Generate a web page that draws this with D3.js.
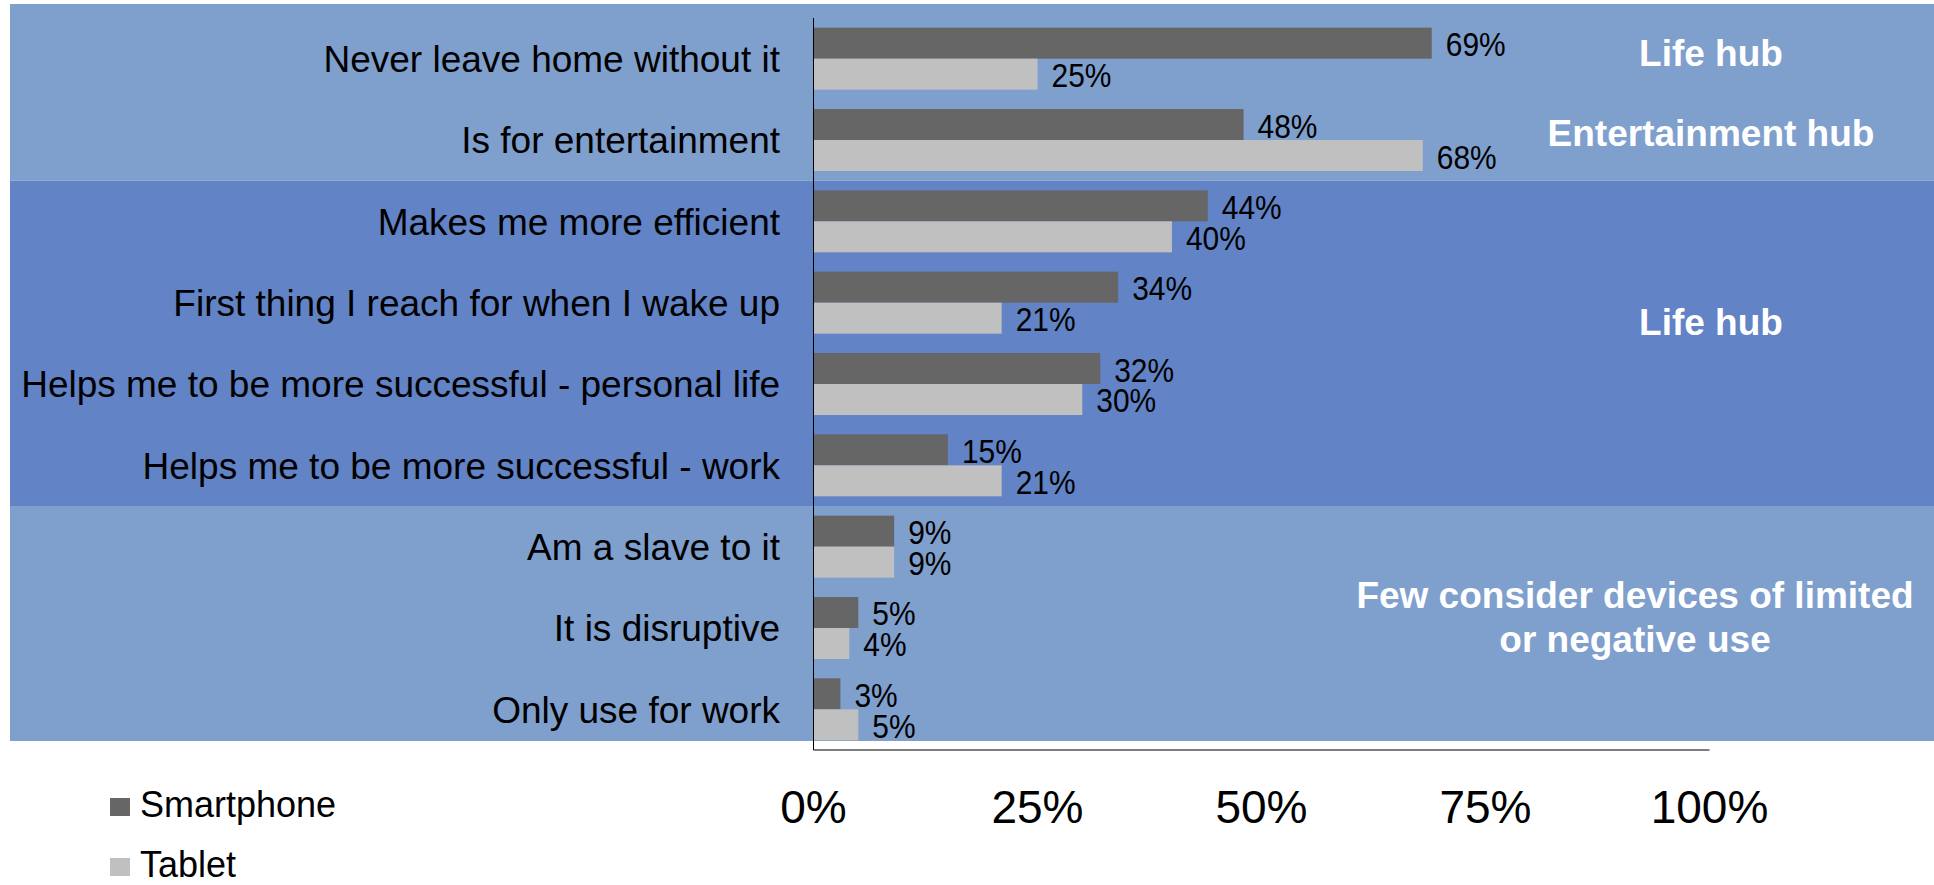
<!DOCTYPE html>
<html>
<head>
<meta charset="utf-8">
<script src="https://cdn.jsdelivr.net/npm/d3@7/dist/d3.min.js"></script>
<style>
  html, body { margin: 0; padding: 0; background: #ffffff; }
  svg { display: block; font-family: "Liberation Sans", Arial, sans-serif; }
</style>
</head>
<body>
<svg id="chart" width="1934" height="885"></svg>
<script>
// Statements about the device, top to bottom
const categories = [
  "Never leave home without it",
  "Is for entertainment",
  "Makes me more efficient",
  "First thing I reach for when I wake up",
  "Helps me to be more successful - personal life",
  "Helps me to be more successful - work",
  "Am a slave to it",
  "It is disruptive",
  "Only use for work"
];
const seriesNames = ["Smartphone", "Tablet"];
const smartphone = [69, 48, 44, 34, 32, 15, 9, 5, 3];
const tablet     = [25, 68, 40, 21, 30, 21, 9, 4, 5];
const tickValues = [0, 25, 50, 75, 100];

// Shaded groups: first and last category index of each block
const groupStart = [0, 2, 6];
const groupEnd   = [1, 5, 8];
const groupShade = ["#7f9fcd", "#6283c5", "#7f9fcd"];

// Notes written on the right side of each block
const noteLines = [
  ["Life hub"],
  ["Entertainment hub"],
  ["Life hub"],
  ["Few consider devices of limited", "or negative use"]
];

const colors = { Smartphone: "#666666", Tablet: "#c0c0c0" };

const svg = d3.select("#chart");

const x = d3.scaleLinear().domain([0, 100]).range([813.5, 1709.5]);
const y = d3.scaleBand().domain(categories).range([18, 750])
  .paddingInner(0.2377).paddingOuter(0.1189);
const ySub = d3.scaleBand().domain(seriesNames).range([0, y.bandwidth()]);

const rows = categories.map((c, i) => ({
  cat: c,
  values: [
    { series: "Smartphone", v: smartphone[i] },
    { series: "Tablet", v: tablet[i] }
  ]
}));

// Background blocks
const step = y.step();
const panelTop = 4, panelBottom = 741;
groupStart.forEach((s, g) => {
  const e = groupEnd[g];
  const top = g === 0 ? panelTop : y(categories[s]) - (step - y.bandwidth()) / 2;
  const bottom = g === groupStart.length - 1 ? panelBottom
    : y(categories[e]) + y.bandwidth() + (step - y.bandwidth()) / 2;
  svg.append("rect")
    .attr("x", 10).attr("y", top)
    .attr("width", 1934 - 10).attr("height", bottom - top)
    .attr("fill", groupShade[g]);
});

// Bars
const rowG = svg.append("g").selectAll("g").data(rows).join("g")
  .attr("transform", d => `translate(0,${y(d.cat)})`);

rowG.selectAll("rect").data(d => d.values).join("rect")
  .attr("x", x(0))
  .attr("y", d => ySub(d.series))
  .attr("width", d => x(d.v) - x(0))
  .attr("height", ySub.bandwidth())
  .attr("fill", d => colors[d.series]);

// Value labels (narrow face)
rowG.selectAll("text").data(d => d.values).join("text")
  .attr("transform", d => `translate(${x(d.v) + 14},${ySub(d.series) + ySub.bandwidth() / 2 + 13}) scale(0.88,1)`)
  .attr("font-size", 34)
  .attr("fill", "#000")
  .text(d => d.v + "%");

// Category labels
svg.append("g").selectAll("text").data(categories).join("text")
  .attr("x", x(0) - 33.5)
  .attr("y", d => y(d) + y.bandwidth() / 2 + 13.3)
  .attr("text-anchor", "end")
  .attr("font-size", 37)
  .attr("fill", "#000")
  .text(d => d);

// Axis lines
svg.append("line")
  .attr("x1", x(0)).attr("x2", x(0))
  .attr("y1", 18).attr("y2", 750)
  .attr("stroke", "#000").attr("stroke-width", 1);
svg.append("line")
  .attr("x1", x(0)).attr("x2", x(100))
  .attr("y1", 750).attr("y2", 750)
  .attr("stroke", "#000").attr("stroke-width", 1.2);

// Tick labels
svg.append("g").selectAll("text").data(tickValues).join("text")
  .attr("x", d => x(d))
  .attr("y", 823)
  .attr("text-anchor", "middle")
  .attr("font-size", 46)
  .attr("fill", "#000")
  .text(d => d + "%");

// Notes
const noteX = [1711, 1711, 1711, 1635];
const noteBaseline = [65.7, 145.7, 335, 608.3];
noteLines.forEach((lines, k) => {
  const t = svg.append("text")
    .attr("text-anchor", "middle")
    .attr("font-size", 37)
    .attr("font-weight", "bold")
    .attr("fill", "#ffffff");
  lines.forEach((ln, j) => {
    t.append("tspan")
      .attr("x", noteX[k])
      .attr("y", noteBaseline[k] + j * 43.5)
      .text(ln);
  });
});

// Legend
const legend = svg.append("g").selectAll("g").data(seriesNames).join("g")
  .attr("transform", (d, i) => `translate(110,${798 + i * 60})`);
legend.append("rect")
  .attr("width", 20).attr("height", 18)
  .attr("fill", d => colors[d]);
legend.append("text")
  .attr("x", 30).attr("y", 19)
  .attr("font-size", 36)
  .attr("fill", "#000")
  .text(d => d);
</script>
</body>
</html>
